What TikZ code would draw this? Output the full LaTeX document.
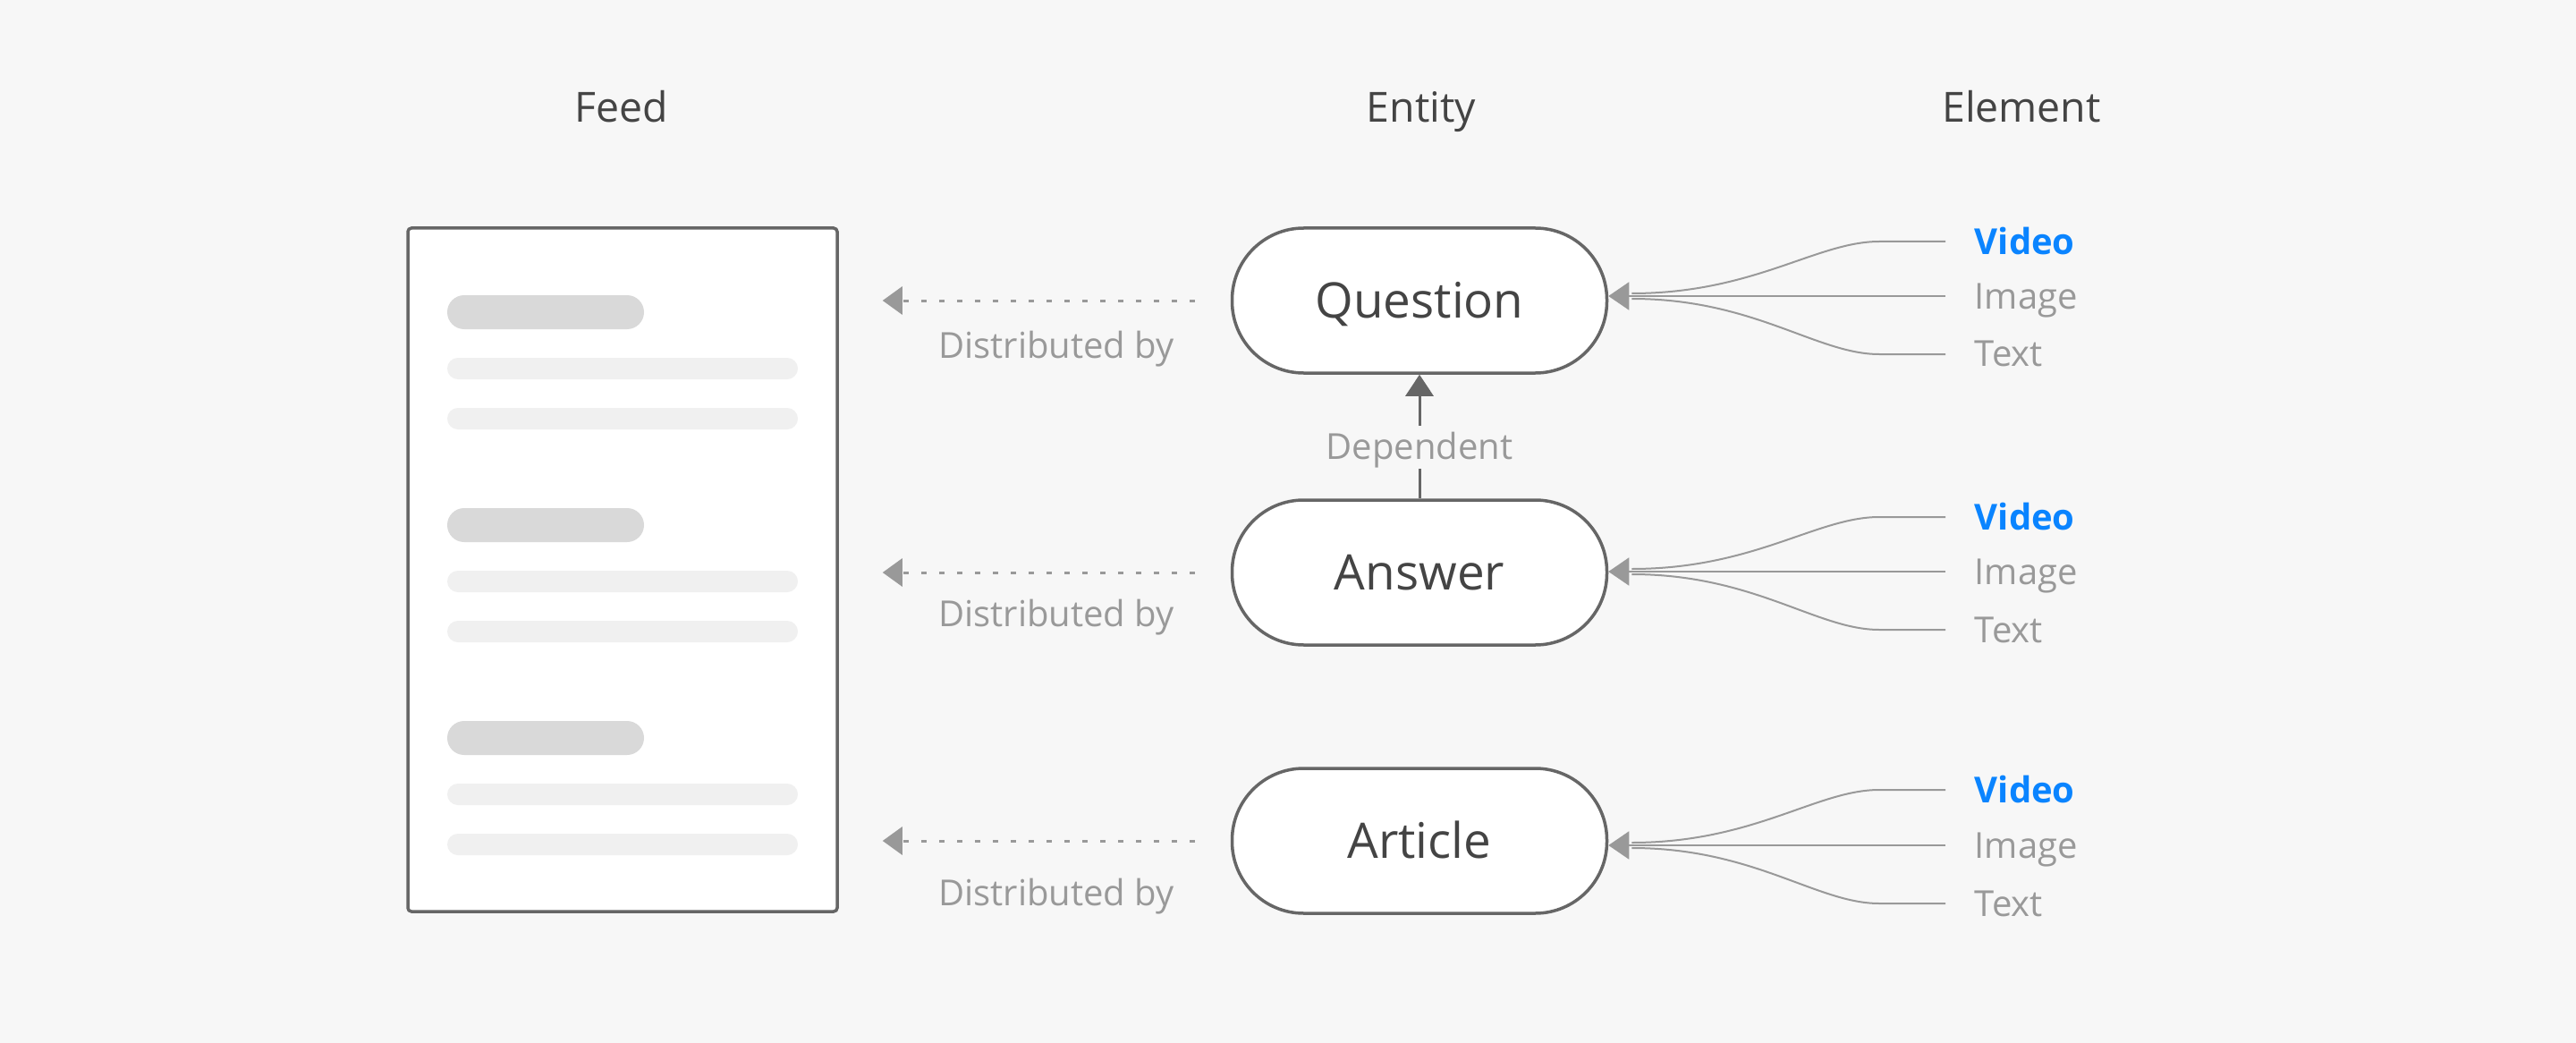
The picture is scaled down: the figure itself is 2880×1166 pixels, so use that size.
\documentclass[tikz,border=0pt]{standalone}
\usepackage{fontspec}
\setmainfont{Open Sans}
\usepackage{tikz}
\usetikzlibrary{arrows.meta, calc}

\definecolor{bgcol}{HTML}{F7F7F7}
\definecolor{boxline}{HTML}{666666}
\definecolor{txtdark}{HTML}{444444}
\definecolor{txtgrey}{HTML}{999999}
\definecolor{vblue}{HTML}{0A84FF}
\definecolor{bardark}{HTML}{D9D9D9}
\definecolor{barlight}{HTML}{F0F0F0}

\begin{document}
\begin{tikzpicture}[x=0.25pt,y=-0.25pt,
    entity/.style={draw=boxline,line width=0.875pt,fill=white,rounded corners=20pt,minimum width=104.75pt,minimum height=40.5pt,text height=9.8pt,text depth=0pt,text=txtdark,font=\fontsize{13.7}{16}\selectfont},
    feedbox/.style={draw=boxline,line width=0.875pt,fill=white,rounded corners=1pt,minimum width=120pt,minimum height=191pt,inner sep=0pt},
    head/.style={anchor=base,inner sep=0pt,text=txtdark,font=\fontsize{11.6}{13}\selectfont},
    lbl/.style={text=txtgrey,font=\fontsize{10}{12}\selectfont},
    elem/.style={lbl,anchor=west,inner xsep=8pt,inner ysep=0pt,text height=7pt,text depth=0pt},
    elemv/.style={elem,text=vblue,font=\fontsize{10}{12}\selectfont\bfseries},
    elemline/.style={draw=txtgrey,line width=0.5pt},
    elemtip/.style={elemline,-{Triangle[length=5.75pt,width=7.75pt]}},
    dist/.style={draw=txtgrey,line width=0.75pt,dash pattern=on 1.5pt off 3.5pt,-{Triangle[length=5.5pt,width=7.75pt]},shorten <=10pt,shorten >=12.25pt},
    dep/.style={draw=boxline,line width=0.75pt,-{Triangle[length=6pt,width=7.75pt]}},
    deplbl/.style={lbl,fill=bgcol,inner xsep=2pt,inner ysep=2.5pt,text height=7pt,text depth=0pt}]

\useasboundingbox (0,0) rectangle (2880,1166);
\fill[bgcol] (0,0) rectangle (2880,1166);

% column heads
\node[head] (hfeed) at (695,137) {Feed};
\node[head] (hentity) at (1589,137) {Entity};
\node[head] (helement) at (2260,137) {Element};

% feed page
\node[feedbox] (feed) at (696,637) {};
\fill[bardark,rounded corners=4.75pt] (500,330) rectangle (720,368);
\fill[barlight,rounded corners=3pt] (500,400) rectangle (892,424);
\fill[barlight,rounded corners=3pt] (500,456) rectangle (892,480);
\fill[bardark,rounded corners=4.75pt] (500,568) rectangle (720,606);
\fill[barlight,rounded corners=3pt] (500,638) rectangle (892,662);
\fill[barlight,rounded corners=3pt] (500,694) rectangle (892,718);
\fill[bardark,rounded corners=4.75pt] (500,806) rectangle (720,844);
\fill[barlight,rounded corners=3pt] (500,876) rectangle (892,900);
\fill[barlight,rounded corners=3pt] (500,932) rectangle (892,956);

% entities
\node[entity] (q) at (1587,336) {Question};
\node[entity] (a) at (1587,640) {Answer};
\node[entity] (r) at (1587,940) {Article};

\path (q) edge[dist] (q -| feed.east);
\path (a) edge[dist] (a -| feed.east);
\path (r) edge[dist] (r -| feed.east);
\node[lbl,anchor=base] (dq) at (1181,400) {Distributed by};
\node[lbl,anchor=base] (da) at (1181,700) {Distributed by};
\node[lbl,anchor=base] (dr) at (1181,1012) {Distributed by};

\path (a) edge[dep] node[deplbl,pos=0.415] (dep) {Dependent} (q);

% elements of question
\node[elemv] (qv) at (2175,270) {Video};
\node[elem] (qi) at (2175,331) {Image};
\node[elem] (qt) at (2175,396) {Text};
\coordinate (qj) at ($(qi.west -| q.east)+(26,0)$);
\draw[elemline] (qv.west) -- ++(-74,0) .. controls +(-70,0) and +(137,0) .. ([yshift=0.75pt]qj);
\draw[elemline] (qt.west) -- ++(-74,0) .. controls +(-70,0) and +(137,0) .. ([yshift=-0.75pt]qj);
\draw[elemtip] (qi.west) -- (qi.west -| q.east);

% elements of answer
\node[elemv] (av) at (2175,578) {Video};
\node[elem] (ai) at (2175,639) {Image};
\node[elem] (at) at (2175,704) {Text};
\coordinate (aj) at ($(ai.west -| a.east)+(26,0)$);
\draw[elemline] (av.west) -- ++(-74,0) .. controls +(-70,0) and +(137,0) .. ([yshift=0.75pt]aj);
\draw[elemline] (at.west) -- ++(-74,0) .. controls +(-70,0) and +(137,0) .. ([yshift=-0.75pt]aj);
\draw[elemtip] (ai.west) -- (ai.west -| a.east);

% elements of article
\node[elemv] (rv) at (2175,883) {Video};
\node[elem] (ri) at (2175,945) {Image};
\node[elem] (rt) at (2175,1010) {Text};
\coordinate (rj) at ($(ri.west -| r.east)+(26,0)$);
\draw[elemline] (rv.west) -- ++(-74,0) .. controls +(-70,0) and +(137,0) .. ([yshift=0.75pt]rj);
\draw[elemline] (rt.west) -- ++(-74,0) .. controls +(-70,0) and +(137,0) .. ([yshift=-0.75pt]rj);
\draw[elemtip] (ri.west) -- (ri.west -| r.east);
\end{tikzpicture}
\end{document}
